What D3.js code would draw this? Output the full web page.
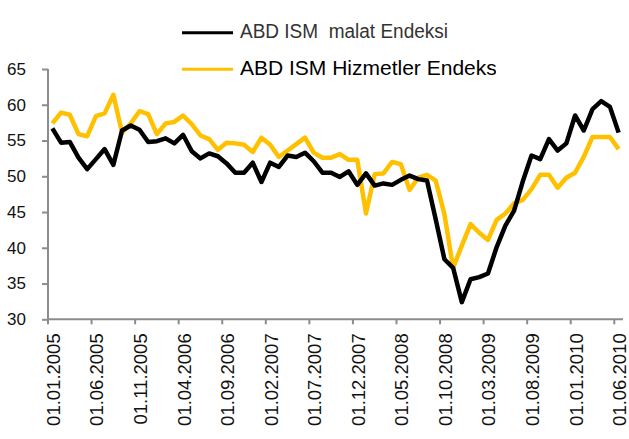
<!DOCTYPE html>
<html lang="tr">
<head>
<meta charset="UTF-8">
<title>ABD ISM Endeksleri</title>
<script src="https://d3js.org/d3.v7.min.js"></script>
<style>
  body { margin: 0; background: #fff; }
  svg { display: block; font-family: "Liberation Sans", Arial, sans-serif; }
</style>
</head>
<body>
<svg id="chart" width="629" height="439"></svg>
<script>
// monthly, 01.2005 - 06.2010
const months = [];
for (let y = 2005; y <= 2010; y++) {
  for (let m = 1; m <= 12; m++) {
    if (y === 2010 && m > 6) break;
    months.push("01." + String(m).padStart(2, "0") + "." + y);
  }
}

const imalat = [56.7, 54.7, 54.8, 52.6, 51.0, 52.4, 53.8, 51.6, 56.4, 57.1, 56.5, 54.8,
  54.9, 55.3, 54.6, 55.8, 53.5, 52.5, 53.2, 52.8, 51.8, 50.5, 50.5, 51.9,
  49.2, 51.9, 51.3, 52.9, 52.7, 53.3, 52.1, 50.5, 50.5, 49.9, 50.7, 48.8,
  50.4, 48.7, 49.0, 48.8, 49.5, 50.1, 49.6, 49.4, 44.0, 38.4, 37.2, 32.4,
  35.6, 35.9, 36.4, 40.1, 43.1, 45.2, 49.3, 52.9, 52.4, 55.2, 53.6, 54.6,
  58.5, 56.4, 59.4, 60.5, 59.7, 56.1];

const hizmetler = [57.4, 58.9, 58.6, 55.9, 55.6, 58.4, 58.8, 61.4, 56.1, 57.4, 59.1, 58.7,
  55.9, 57.4, 57.6, 58.5, 57.3, 55.7, 55.2, 53.7, 54.7, 54.6, 54.4, 53.4,
  55.4, 54.4, 52.7, 53.6, 54.5, 55.4, 53.3, 52.6, 52.6, 53.1, 52.3, 52.3,
  44.8, 50.3, 50.4, 52.0, 51.7, 48.1, 49.8, 50.2, 49.4, 44.7, 37.2, 40.3,
  43.3, 42.1, 41.1, 43.9, 44.8, 46.2, 46.7, 48.2, 50.2, 50.2, 48.4, 49.8,
  50.5, 52.7, 55.5, 55.5, 55.5, 53.8];

const yTicks = [30, 35, 40, 45, 50, 55, 60, 65];
const labelEvery = 5;

const svg = d3.select("#chart");

const x = d3.scaleBand().domain(months).range([48, 623]).padding(0);
const y = d3.scaleLinear().domain([30, 65]).range([319.3, 69]);
const cx = d => x(d) + x.bandwidth() / 2;

// y axis
const yAxis = svg.append("g").attr("transform", "translate(48,0)")
  .call(d3.axisLeft(y).tickValues(yTicks).tickSize(6).tickPadding(16).tickFormat(d3.format("d")));
yAxis.select(".domain").attr("stroke", "#8c8c8c").attr("stroke-width", 2).attr("d", "M0,69V319.3");
yAxis.selectAll(".tick line").attr("stroke", "#8c8c8c").attr("stroke-width", 2);
yAxis.selectAll(".tick text").attr("font-size", 17).attr("fill", "#111")
  .attr("font-family", "Liberation Sans, Arial, sans-serif");

// x axis
const tickMonths = months.filter((m, i) => i % labelEvery === 0);
const xAxis = svg.append("g").attr("transform", "translate(0,319.3)");
xAxis.append("line").attr("x1", 48).attr("x2", 623).attr("stroke", "#8c8c8c").attr("stroke-width", 2);
xAxis.selectAll("line.tk").data(tickMonths).enter().append("line")
  .attr("class", "tk")
  .attr("x1", d => x(d)).attr("x2", d => x(d))
  .attr("y1", 0).attr("y2", 5)
  .attr("stroke", "#8c8c8c").attr("stroke-width", 2);
xAxis.selectAll("text").data(tickMonths).enter().append("text")
  .attr("transform", d => "translate(" + (cx(d) + 1) + ",14) rotate(-90)")
  .attr("text-anchor", "end")
  .attr("dy", "0.35em")
  .attr("font-size", 18.5)
  .attr("fill", "#111")
  .text(d => d);

// lines
const line = d3.line().x((d, i) => cx(months[i])).y(d => y(d));

svg.append("path").datum(hizmetler)
  .attr("fill", "none").attr("stroke", "#FFC000").attr("stroke-width", 4.5)
  .attr("stroke-linejoin", "round").attr("d", line);

svg.append("path").datum(imalat)
  .attr("fill", "none").attr("stroke", "#000").attr("stroke-width", 4.5)
  .attr("stroke-linejoin", "round").attr("d", line);

// legend
svg.append("clipPath").attr("id", "legclip")
  .append("rect").attr("x", 0).attr("y", 0).attr("width", 496).attr("height", 100);

const leg = svg.append("g");
leg.append("line").attr("x1", 182).attr("x2", 233).attr("y1", 32.7).attr("y2", 32.7)
  .attr("stroke", "#000").attr("stroke-width", 3);
leg.append("text").attr("x", 240).attr("y", 38.3)
  .attr("font-size", 20).attr("fill", "#333")
  .style("white-space", "pre")
  .attr("textLength", 208).attr("lengthAdjust", "spacingAndGlyphs")
  .text("ABD ISM  malat Endeksi");

leg.append("line").attr("x1", 182).attr("x2", 233).attr("y1", 69.3).attr("y2", 69.3)
  .attr("stroke", "#FFC000").attr("stroke-width", 3);
leg.append("text").attr("x", 240).attr("y", 75)
  .attr("font-size", 21).attr("fill", "#000")
  .attr("clip-path", "url(#legclip)")
  .text("ABD ISM Hizmetler Endeksi");
</script>
</body>
</html>
